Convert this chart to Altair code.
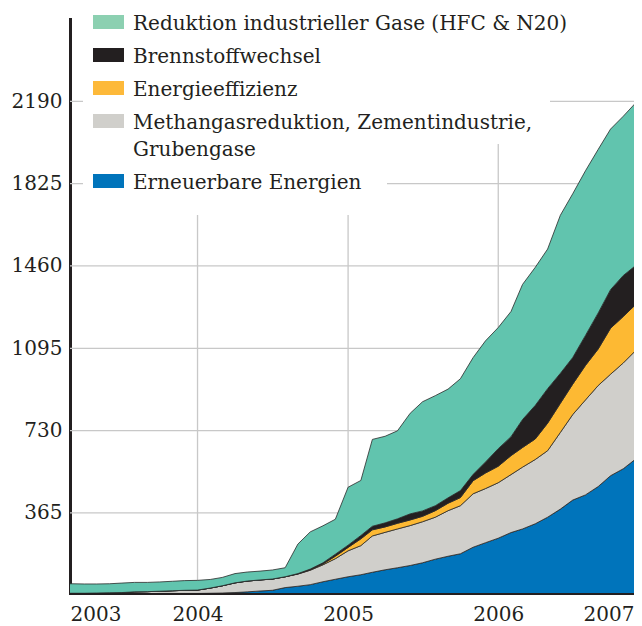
import altair as alt
import pandas as pd

# ---------------- data ----------------
monate = [
    "2003-02-01", "2003-03-01", "2003-04-01", "2003-05-01", "2003-06-01", "2003-07-01",
    "2003-08-01", "2003-09-01", "2003-10-01", "2003-11-01", "2003-12-01",
    "2004-01-01", "2004-02-01", "2004-03-01", "2004-04-01", "2004-05-01", "2004-06-01",
    "2004-07-01", "2004-08-01", "2004-09-01", "2004-10-01", "2004-11-01", "2004-12-01",
    "2005-01-01", "2005-02-01", "2005-03-01", "2005-04-01", "2005-05-01", "2005-06-01",
    "2005-07-01", "2005-08-01", "2005-09-01", "2005-10-01", "2005-11-01", "2005-12-01",
    "2006-01-01", "2006-02-01", "2006-03-01", "2006-04-01", "2006-05-01", "2006-06-01",
    "2006-07-01", "2006-08-01", "2006-09-01", "2006-10-01", "2006-11-01", "2006-12-01",
    "2007-01-01",
]

erneuerbare = [5, 5, 5, 6, 6, 6, 7, 7, 8, 8, 8,
               8, 9, 10, 12, 15, 19, 22, 34, 40, 47, 60, 71,
               82, 91, 102, 113, 122, 132, 144, 160, 173, 184, 213, 233,
               253, 278, 294, 317, 346, 382, 422, 445, 482, 530, 561, 604,
               650]
methangas = [3, 4, 4, 4, 5, 6, 8, 9, 10, 12, 14,
             15, 23, 32, 43, 48, 49, 50, 48, 54, 64, 75, 91,
             115, 129, 161, 166, 172, 177, 182, 186, 202, 213, 237, 240,
             246, 257, 274, 285, 295, 340, 379, 421, 448, 450, 469, 481,
             492]
energieeffizienz = [0, 0, 0, 0, 0, 0, 0, 0, 0, 0, 0,
                    0, 0, 0, 0, 0, 0, 0, 0, 1, 2, 4, 11,
                    15, 30, 27, 24, 25, 25, 24, 29, 33, 36, 58, 69,
                    73, 84, 87, 91, 122, 129, 135, 153, 162, 204, 206, 204,
                    208]
brennstoffwechsel = [0, 0, 0, 0, 0, 0, 0, 0, 0, 0, 0,
                     0, 0, 0, 0, 0, 0, 0, 0, 1, 3, 5, 9,
                     10, 15, 16, 18, 20, 27, 24, 22, 24, 31, 28, 49,
                     78, 84, 124, 149, 153, 133, 118, 133, 160, 171, 182, 173,
                     160]
industriegase = [42, 42, 41, 40, 40, 42, 42, 41, 41, 42, 43,
                 43, 38, 37, 41, 40, 39, 40, 40, 131, 165, 164, 155,
                 257, 244, 385, 384, 390, 446, 484, 488, 482, 496, 518, 537,
                 537, 555, 599, 612, 619, 701, 726, 730, 725, 712, 706, 721,
                 754]

# stacking order (bottom -> top)
reihen = [
    "Erneuerbare Energien",
    "Methangasreduktion, Zementindustrie, Grubengase",
    "Energieeffizienz",
    "Brennstoffwechsel",
    "Reduktion industrieller Gase (HFC & N20)",
]
werte = [erneuerbare, methangas, energieeffizienz, brennstoffwechsel, industriegase]

# legend (top -> bottom)
legende_text = [
    "Reduktion industrieller Gase (HFC & N20)",
    "Brennstoffwechsel",
    "Energieeffizienz",
    "Methangasreduktion, Zementindustrie,\nGrubengase",
    "Erneuerbare Energien",
]

y_ticks = [365, 730, 1095, 1460, 1825, 2190]
x_gitter = ["2004-01-01", "2005-01-01", "2006-01-01"]
x_start, x_ende = "2003-02-25", "2006-11-27"

# ---------------- styles ----------------
area_colors = ["#0074BB", "#D0CFCB", "#FDB933", "#231F20", "#61C4AE"]
legend_colors = ["#8CD0B1", "#231F20", "#FDB93A", "#D0CFCB", "#0074BB"]
FONT = "DejaVu Serif"
TXT = "#231F20"
GRID = "#C8C8C8"


def ms(s):
    return int(pd.Timestamp(s, tz="UTC").value // 10**6)


rows = []
for rang, (name, vals) in enumerate(zip(reihen, werte)):
    for m, v in zip(monate, vals):
        rows.append({"Monat": m, "Reihe": name, "Wert": v, "Rang": rang})
long_df = pd.DataFrame(rows)

x_scale = alt.Scale(type="utc", domain=[ms(x_start), ms(x_ende)])
y_scale = alt.Scale(domain=[10, 2555], nice=False, zero=False)

x_axis = alt.Axis(
    values=[ms(x_start)] + [ms(d) for d in x_gitter] + [ms(x_ende)],
    labelExpr="utcyear(datum.value) == 2003 ? '2003' : ((utcyear(datum.value) == 2006 && utcmonth(datum.value) > 5) ? '2007' : utcFormat(datum.value, '%Y'))",
    labelFlush=True,
    ticks=False,
    grid=False,
    domainColor=TXT,
    domainWidth=3,
    domainCap="square",
    labelFont=FONT,
    labelFontSize=20,
    labelColor=TXT,
    labelPadding=11,
    title=None,
)
y_axis = alt.Axis(
    values=y_ticks,
    format="d",
    ticks=False,
    grid=False,
    domainColor=TXT,
    domainWidth=3,
    domainCap="square",
    labelFont=FONT,
    labelFontSize=20,
    labelColor=TXT,
    labelPadding=8,
    title=None,
)

hgrid = alt.Chart(pd.DataFrame({"y": y_ticks})).mark_rule(color=GRID, strokeWidth=1.3).encode(
    y=alt.Y("y:Q", scale=y_scale, axis=y_axis)
)
vgrid = alt.Chart(pd.DataFrame({"x": x_gitter})).mark_rule(color=GRID, strokeWidth=1.3).encode(
    x=alt.X("x:T", scale=x_scale, axis=x_axis)
)

mask_a = alt.Chart(alt.Data(values=[{}])).mark_rect(color="white").encode(
    x=alt.value(13), x2=alt.value(480), y=alt.value(-2), y2=alt.value(125)
)
mask_b = alt.Chart(alt.Data(values=[{}])).mark_rect(color="white").encode(
    x=alt.value(13), x2=alt.value(317), y=alt.value(124), y2=alt.value(196)
)

areas = alt.Chart(long_df).mark_area(
    stroke="#2A2A2A", strokeWidth=0.8, clip=True, interpolate="linear"
).encode(
    x=alt.X("Monat:T", scale=x_scale, axis=x_axis),
    y=alt.Y("Wert:Q", stack="zero", scale=y_scale, axis=y_axis),
    color=alt.Color("Reihe:N", scale=alt.Scale(domain=reihen, range=area_colors), legend=None),
    order=alt.Order("Rang:Q", sort="ascending"),
)

# legend: one swatch + one label per entry, laid out in pixels
leg_layers = []
for i, (label, col) in enumerate(zip(legende_text, legend_colors)):
    yc = 3 + 33 * i + (27 if i >= 4 else 0)
    leg_layers.append(
        alt.Chart(alt.Data(values=[{}])).mark_rect(color=col).encode(
            x=alt.value(23), x2=alt.value(54), y=alt.value(yc - 7), y2=alt.value(yc + 7)
        )
    )
    leg_layers.append(
        alt.Chart(alt.Data(values=[{}])).mark_text(
            text=label.split("\n"), align="left", baseline="alphabetic", font=FONT,
            fontSize=20, color=TXT, lineHeight=27,
        ).encode(x=alt.value(63), y=alt.value(yc + 7.5))
    )

chart = alt.layer(hgrid, vgrid, mask_a, mask_b, areas, *leg_layers).properties(
    width=564, height=574,
    autosize=alt.AutoSizeParams(type="none"),
    padding={"left": 62, "top": 11, "right": 0, "bottom": 33},
).configure_view(stroke=None)

chart.save("out.html", embed_options={"renderer": "svg", "actions": False})
